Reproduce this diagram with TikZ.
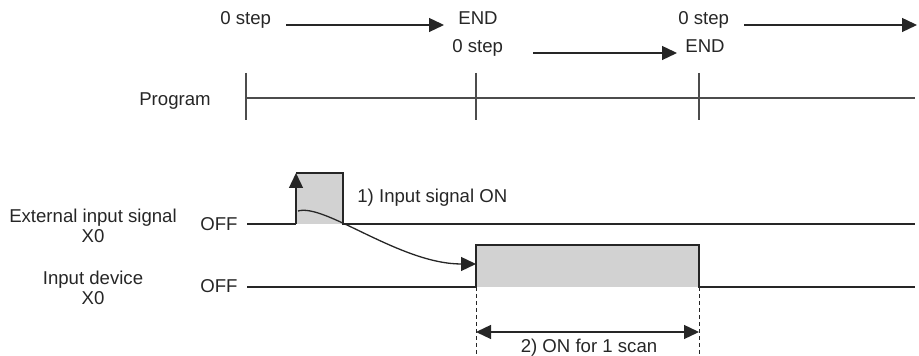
\documentclass[tikz,border=0pt]{standalone}
\usepackage{fontspec}
\setmainfont{Liberation Sans}
\usetikzlibrary{arrows.meta}

\begin{document}
\begin{tikzpicture}[x=0.5pt, y=-0.5pt,
    lbl/.style={inner sep=0pt, font=\fontsize{9.3}{10}\selectfont, text=black!85},
    tip/.style={-{Triangle[length=7.5pt, width=7pt]}},
    sig/.style={line width=0.65pt, draw=black!85}]
  \useasboundingbox (0,0) rectangle (919,356);

    % Scan steps
    \node[lbl, anchor=base west] (s1) at (220,25) {0 step};
    \node[lbl, anchor=base west] (e1) at (458,25) {END};
    \node[lbl, anchor=base west] (s2) at (452,53) {0 step};
    \node[lbl, anchor=base west] (e2) at (685,53) {END};
    \node[lbl, anchor=base west] (s3) at (678,25) {0 step};
    \coordinate (sEnd) at (917,25);

    \draw[sig, tip, shorten <=7.5pt, shorten >=7pt] (s1.base east) -- (e1.base west);
    \draw[sig, tip, shorten <=15pt, shorten >=4pt] (s2.base east) -- (e2.base west);
    \draw[sig, tip, shorten <=7.5pt] (s3.base east) -- (sEnd);

    % Program time line
    \node[lbl, anchor=base] (prog) at (175,106) {Program};
    \draw[sig, draw=black!70] (246,98) -- (915,98);
    \draw[sig, draw=black!70] (246,73) -- (246,120);
    \draw[sig, draw=black!70] (476,73) -- (476,120);
    \draw[sig, draw=black!70] (699,73) -- (699,120);

    % Signal names
    \node[lbl, align=center] (ext) at (93,226) {External input signal\\X0};
    \node[lbl, align=center] (dev) at (93,288) {Input device\\X0};
    \node[lbl, anchor=base east] (off1) at (238,231) {OFF};
    \node[lbl, anchor=base east] (off2) at (238,293) {OFF};

    % External input signal
    \fill[gray!35] (296,173) rectangle (343,224);
    \draw[sig] (247,224) -- (296,224);
    \draw[sig, tip] (296,224) -- (296,173);
    \draw[sig] (296,173) -- (343,173) -- (343,224) -- (915,224);
    \node[lbl, anchor=base west] (on1) at (357,203) {1) Input signal ON};

    % Input device
    \fill[gray!35] (476,245) rectangle (699,287);
    \draw[sig] (247,287) -- (476,287) -- (476,245) -- (699,245) -- (699,287) -- (915,287);

    % Transfer at END
    \coordinate (from) at (298,211);
    \coordinate (to) at (476,264);
    \draw[sig, tip] (from) .. controls (325,203) and (400,264) .. (to);

    % One scan
    \draw[line width=0.5pt, draw=black!85, dash pattern=on 2pt off 1.5pt] (476,287) -- (476,356);
    \draw[line width=0.5pt, draw=black!85, dash pattern=on 2pt off 1.5pt] (699,287) -- (699,356);
    \coordinate (scanL) at (476,332);
    \coordinate (scanR) at (699,332);
    \draw[sig, {Triangle[length=7.5pt, width=7pt]}-{Triangle[length=7.5pt, width=7pt]}] (scanL) -- (scanR);
    \node[lbl, anchor=base] (scan) at (589,353) {2) ON for 1 scan};
\end{tikzpicture}
\end{document}
